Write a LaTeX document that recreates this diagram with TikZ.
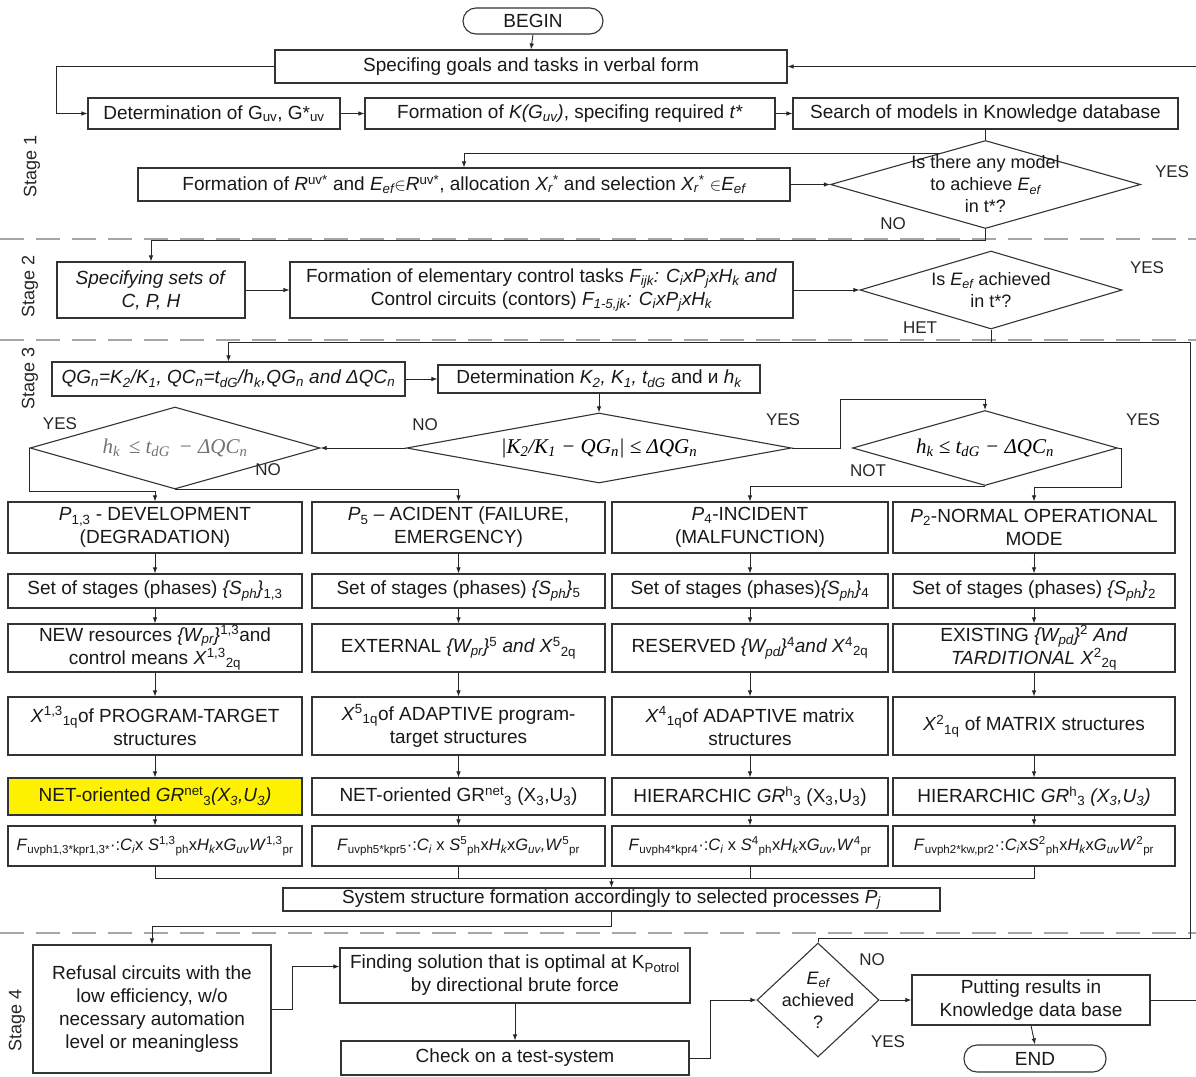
\documentclass[tikz,border=0pt]{standalone}
\usepackage{fontspec}
\setmainfont{Liberation Sans}
\newfontfamily\serifit{Liberation Serif}
\usetikzlibrary{arrows.meta,shapes.geometric,calc}
\pgfdeclarelayer{bg}
\pgfsetlayers{bg,main}
\newcommand\sbs[1]{\textsubscript{#1}}
\newcommand\sps[1]{\textsuperscript{#1}}
\begin{document}
\begin{tikzpicture}[x=1pt,y=-1pt,
  font=\fontsize{19}{23}\selectfont,
  box/.style={draw=black!80,line width=1.1pt,align=center,inner sep=1pt,fill=white,text=black!90},
  term/.style={box,rounded corners=13pt},
  dia/.style={diamond,draw=black!80,line width=1.1pt,inner sep=0pt,fill=white},
  dtext/.style={align=center,inner sep=0pt,text=black!90,font=\fontsize{18}{22}\selectfont},
  ftext/.style={inner sep=0pt,font=\fontsize{21}{24}\selectfont\serifit\itshape},
  arr/.style={line width=0.9pt,draw=black!85,-{Latex[length=6pt,width=4.5pt]}},
  ln/.style={line width=0.9pt,draw=black!85},
  sepl/.style={draw=gray!70,line width=1.3pt,dash pattern=on 24pt off 12pt},
  lbl/.style={inner sep=0pt,text=black!85,font=\fontsize{17}{19}\selectfont},
  stg/.style={rotate=90,inner sep=0pt,text=black!85,font=\fontsize{18}{20}\selectfont},
  fbox/.style={box,font=\fontsize{16.5}{19}\selectfont},
  cA/.style={minimum width=294pt},
  cB/.style={minimum width=293pt},
  cC/.style={minimum width=276pt},
  cE/.style={minimum width=282pt},
  r1/.style={minimum height=51pt},
  r2/.style={minimum height=34pt},
  r3/.style={minimum height=48pt},
  r4/.style={minimum height=58pt},
  r5/.style={minimum height=37pt},
  r6/.style={minimum height=40pt},
  ]
\useasboundingbox (0,0) rectangle (1196,1076);

% ---------- Stage labels
\node[stg] (s1) at (32,166) {Stage 1};
\node[stg] (s2) at (30,286) {Stage 2};
\node[stg] (s3) at (30,378) {Stage 3};
\node[stg] (s4) at (17,1020) {Stage 4};

% ---------- Stage 1
\node[term,minimum width=140pt,minimum height=26pt] (begin) at (533,21) {BEGIN};
\node[box,minimum width=512pt,minimum height=33pt] (goals) at (531,66.5) {Specifing goals and tasks in verbal form};
\node[box,minimum width=252pt,minimum height=31pt] (detG) at (214,113.5) {Determination of G\sbs{uv}, G*\sbs{uv}};
\node[box,minimum width=410pt,minimum height=31pt] (formK) at (570,113.5) {Formation of \textit{K(G\sbs{uv})}, specifing required \textit{t*}};
\node[box,minimum width=385pt,minimum height=31pt] (search) at (985.5,113.5) {Search of models in Knowledge database};
\node[box,minimum width=652pt,minimum height=33pt] (formR) at (464,184.5) {Formation of \textit{R}\sps{uv*} and \textit{E\sbs{ef}}$\in$\textit{R}\sps{uv*}, allocation \textit{X\sbs{r}}\sps{*} and selection \textit{X\sbs{r}}\sps{*} $\in$\textit{E\sbs{ef}}};
\node[dia,minimum width=310pt,minimum height=88pt] (d1) at (985.5,184.5) {};
\node[dtext] (d1t) at (d1) {Is there any model\\to achieve \textit{E\sbs{ef}}\\in t*?};
\node[lbl] (l1y) at (1172,172) {YES};
\node[lbl] (l1n) at (893,224) {NO};

% ---------- Stage 2
\node[box,minimum width=188pt,minimum height=56pt] (spec) at (151,290) {\textit{Specifying sets of}\\\textit{C, P, H}};
\node[box,minimum width=503pt,minimum height=56pt] (formE) at (541.5,290) {Formation of elementary control tasks \textit{F\sbs{ijk}: C\sbs{i}xP\sbs{j}xH\sbs{k} and}\\Control circuits (contors) \textit{F\sbs{1-5,jk}: C\sbs{i}xP\sbs{j}xH\sbs{k}}};
\node[dia,minimum width=262pt,minimum height=78pt] (d2) at (991,290) {};
\node[dtext] (d2t) at (d2) {Is \textit{E\sbs{ef}} achieved\\in t*?};
\node[lbl] (l2y) at (1147,268) {YES};
\node[lbl] (l2n) at (920,328) {HET};

% ---------- Stage 3
\node[box,minimum width=353pt,minimum height=34pt] (qg) at (228.5,379) {\textit{QG\sbs{n}=K\sbs{2}/K\sbs{1}, QC\sbs{n}=t\sbs{dG}/h\sbs{k},QG\sbs{n} and ΔQC\sbs{n}}};
\node[box,minimum width=322pt,minimum height=28pt] (detK) at (599,379) {Determination \textit{K\sbs{2}, K\sbs{1}, t\sbs{dG}} and и \textit{h\sbs{k}}};
\node[dia,minimum width=385pt,minimum height=70pt] (d3) at (599,448) {};
\node[ftext] (d3t) at (d3) {|K\sbs{2}/K\sbs{1} − QG\sbs{n}| ≤ ΔQG\sbs{n}};
\node[dia,minimum width=290pt,minimum height=82pt] (d5) at (175,448) {};
\node[ftext,text=black!55] (d5t) at (d5) {h\sbs{k}\, ≤ t\sbs{dG}\, − ΔQC\sbs{n}};
\node[dia,minimum width=265pt,minimum height=75pt] (d6) at (985,448) {};
\node[ftext] (d6t) at (d6) {h\sbs{k} ≤ t\sbs{dG} − ΔQC\sbs{n}};
\node[lbl] (l3n) at (425,425) {NO};
\node[lbl] (l3y) at (783,420) {YES};
\node[lbl] (l5y) at (60,424) {YES};
\node[lbl] (l5n) at (268,470) {NO};
\node[lbl] (l6y) at (1143,420) {YES};
\node[lbl] (l6n) at (868,471) {NOT};

% ---------- column A
\node[box,cA,r1] (a1) at (155,527.5) {\textit{P}\sbs{1,3} - DEVELOPMENT\\(DEGRADATION)};
\node[box,cA,r2] (a2) at (155,591) {Set of stages (phases) \textit{\{S\sbs{ph}\}}\sbs{1,3}};
\node[box,cA,r3] (a3) at (155,648) {NEW resources \textit{\{W\sbs{pr}\}}\sps{1,3}and\\control means \textit{X}\sps{1,3}\sbs{2q}};
\node[box,cA,r4] (a4) at (155,726) {\textit{X}\sps{1,3}\sbs{1q}of PROGRAM-TARGET\\structures};
\node[box,cA,r5,fill=yellow] (a5) at (155,796.5) {NET-oriented \textit{GR}\sps{net}\sbs{3}\textit{(X\sbs{3},U\sbs{3})}};
\node[fbox,cA,r6] (a6) at (155,846) {\textit{F}\sbs{uvph1,3*kpr1,3*}·:\textit{C\sbs{i}}x \textit{S}\sps{1,3}\sbs{ph}x\textit{H\sbs{k}}x\textit{G\sbs{uv}W}\sps{1,3}\sbs{pr}};
% ---------- column B
\node[box,cB,r1] (b1) at (458.5,527.5) {\textit{P}\sbs{5} – ACIDENT (FAILURE,\\EMERGENCY)};
\node[box,cB,r2] (b2) at (458.5,591) {Set of stages (phases) \textit{\{S\sbs{ph}\}}\sbs{5}};
\node[box,cB,r3] (b3) at (458.5,648) {EXTERNAL \textit{\{W\sbs{pr}\}}\sps{5} \textit{and X}\sps{5}\sbs{2q}};
\node[box,cB,r4] (b4) at (458.5,726) {\textit{X}\sps{5}\sbs{1q}of ADAPTIVE program-\\target structures};
\node[box,cB,r5] (b5) at (458.5,796.5) {NET-oriented GR\sps{net}\sbs{3} (X\sbs{3},U\sbs{3})};
\node[fbox,cB,r6] (b6) at (458.5,846) {\textit{F}\sbs{uvph5*kpr5}·:\textit{C\sbs{i}} x \textit{S}\sps{5}\sbs{ph}x\textit{H\sbs{k}}x\textit{G\sbs{uv},W}\sps{5}\sbs{pr}};
% ---------- column C
\node[box,cC,r1] (c1) at (750,527.5) {\textit{P}\sbs{4}-INCIDENT\\(MALFUNCTION)};
\node[box,cC,r2] (c2) at (750,591) {Set of stages (phases)\textit{\{S\sbs{ph}\}}\sbs{4}};
\node[box,cC,r3] (c3) at (750,648) {RESERVED \textit{\{W\sbs{pd}\}}\sps{4}\textit{and X}\sps{4}\sbs{2q}};
\node[box,cC,r4] (c4) at (750,726) {\textit{X}\sps{4}\sbs{1q}of ADAPTIVE matrix\\structures};
\node[box,cC,r5] (c5) at (750,796.5) {HIERARCHIC \textit{GR}\sps{h}\sbs{3} (X\sbs{3},U\sbs{3})};
\node[fbox,cC,r6] (c6) at (750,846) {\textit{F}\sbs{uvph4*kpr4}·:\textit{C\sbs{i}} x \textit{S}\sps{4}\sbs{ph}x\textit{H\sbs{k}}x\textit{G\sbs{uv},W}\sps{4}\sbs{pr}};
% ---------- column E
\node[box,cE,r1] (e1) at (1034,527.5) {\textit{P}\sbs{2}-NORMAL OPERATIONAL\\MODE};
\node[box,cE,r2] (e2) at (1034,591) {Set of stages (phases) \textit{\{S\sbs{ph}\}}\sbs{2}};
\node[box,cE,r3] (e3) at (1034,648) {EXISTING \textit{\{W\sbs{pd}\}}\sps{2} \textit{And}\\\textit{TARDITIONAL X}\sps{2}\sbs{2q}};
\node[box,cE,r4] (e4) at (1034,726) {\textit{X}\sps{2}\sbs{1q} of MATRIX structures};
\node[box,cE,r5] (e5) at (1034,796.5) {HIERARCHIC \textit{GR}\sps{h}\sbs{3} \textit{(X\sbs{3},U\sbs{3})}};
\node[fbox,cE,r6] (e6) at (1034,846) {\textit{F}\sbs{uvph2*kw,pr2}·:\textit{C\sbs{i}}x\textit{S}\sps{2}\sbs{ph}x\textit{H\sbs{k}}x\textit{G\sbs{uv}W}\sps{2}\sbs{pr}};

\node[box,minimum width=657pt,minimum height=23pt] (sys) at (611.5,899.5) {System structure formation accordingly to selected processes \textit{P\sbs{j}}};

% ---------- Stage 4
\node[box,minimum width=238pt,minimum height=128pt] (ref) at (152,1009) {Refusal circuits with the\\low efficiency, w/o\\necessary automation\\level or meaningless};
\node[box,minimum width=350pt,minimum height=55pt] (find) at (515,975.5) {Finding solution that is optimal at K\sbs{Potrol}\\by directional brute force};
\node[box,minimum width=348pt,minimum height=34pt] (check) at (515,1058) {Check on a test-system};
\node[dia,minimum width=122pt,minimum height=114pt] (d4) at (818,1000) {};
\node[dtext] (d4t) at (d4) {\textit{E\sbs{ef}}\\achieved\\?};
\node[lbl] (l4n) at (872,960) {NO};
\node[lbl] (l4y) at (888,1042) {YES};
\node[box,minimum width=238pt,minimum height=50pt] (put) at (1031,1000) {Putting results in\\Knowledge data base};
\node[term,minimum width=142pt,minimum height=27pt] (end) at (1035,1058.5) {END};

\coordinate (re1) at (1196,66.5);
\coordinate (re2) at (1196,1000);
\coordinate (J) at (991,342);
\coordinate (rc) at (1190,342);
\coordinate (jb) at (611.5,878);

\begin{pgfonlayer}{bg}
  % separators
  \draw[sepl] (0,239) -- (1196,239);
  \draw[sepl] (0,340) -- (1196,340);
  \draw[sepl] (0,933) -- (1196,933);
  % stage 1
  \draw[arr] (begin.south) -- (goals.north);
  \draw[arr] (re1) -- (goals.east);
  \draw[arr] (goals.west) -- ++(-218,0) |- (detG.west);
  \draw[arr] (detG.east) -- (formK.west);
  \draw[arr] (formK.east) -- (search.west);
  \draw[ln] (search.south) -- (d1.north);
  \draw[arr] (search.south |- 0,153) -| (formR.north);
  \draw[arr] (formR.east) -- (d1.west);
  \draw[arr] (d1.south) -- ++(0,11) -| (spec.north);
  % stage 2
  \draw[arr] (spec.east) -- (formE.west);
  \draw[arr] (formE.east) -- (d2.west);
  \draw[ln] (d2.south) -- (J);
  \draw[arr] (J) -| (qg.north);
  \draw[ln] (d4.north) -- ++(0,-4) -| (rc) -- (J);
  % stage 3
  \draw[arr] (qg.east) -- (detK.west);
  \draw[arr] (detK.south) -- (d3.north);
  \draw[arr] (d3.west) -- (d5.east);
  \draw[arr] (d3.east) -- ++(48,0) |- ($(d6.north)+(0,-11)$) -- (d6.north);
  \draw[arr] (d5.west) |- ($(a1.north)+(0,-10)$) -- (a1.north);
  \draw[arr] (d5.south) -| (b1.north);
  \draw[arr] (d6.east) -- ++(3,0) |- ($(e1.north)+(0,-14)$) -- (e1.north);
  \draw[arr] (d6.south) -| (c1.north);
  \foreach \c in {a,b,c,e}{
    \draw[arr] (\c1.south) -- (\c2.north);
    \draw[arr] (\c2.south) -- (\c3.north);
    \draw[arr] (\c3.south) -- (\c4.north);
    \draw[arr] (\c4.south) -- (\c5.north);
    \draw[arr] (\c5.south) -- (\c6.north);
  }
  \draw[ln] (a6.south) |- (jb);
  \draw[ln] (e6.south) |- (jb);
  \draw[ln] (b6.south) -- (b6.south |- jb);
  \draw[ln] (c6.south) -- (c6.south |- jb);
  \draw[arr] (jb) -- (sys.north);
  \draw[arr] (sys.south) |- ($(ref.north)+(0,-18)$) -- (ref.north);
  % stage 4
  \draw[arr] (ref.east) -- ++(21,0) |- ([yshift=9pt]find.west);
  \draw[arr] (find.south) -- (check.north);
  \draw[arr] (check.east) -- ++(21,0) |- (d4.west);
  \draw[arr] (d4.east) -- (put.west);
  \draw[arr] (put.south) -- (end.north);
  \draw[ln] (put.east) -- (re2);
\end{pgfonlayer}
\end{tikzpicture}
\end{document}
